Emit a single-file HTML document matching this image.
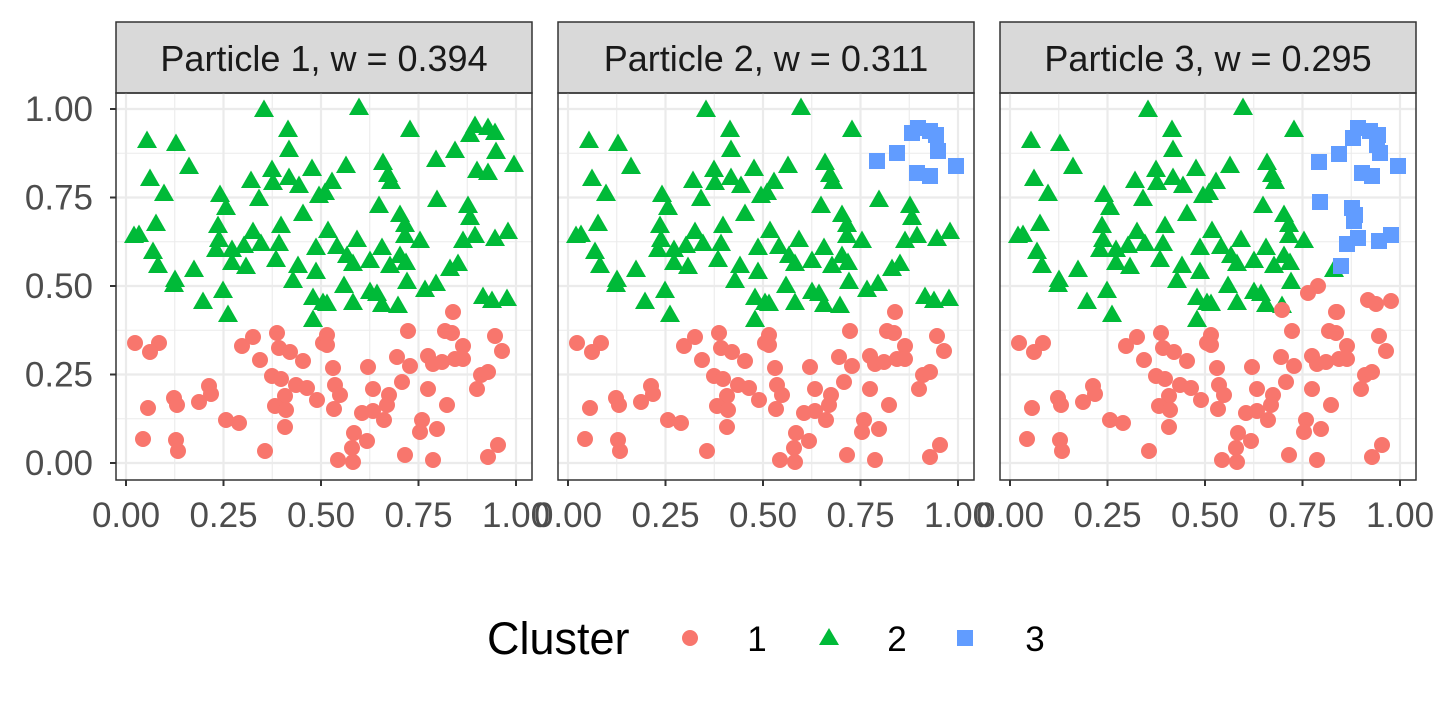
<!DOCTYPE html>
<html><head><meta charset="utf-8"><style>
body{margin:0;background:#fff;}
svg{display:block;font-family:"Liberation Sans",Arial,sans-serif;}
</style></head><body>
<svg id="s" width="1440" height="720" xmlns="http://www.w3.org/2000/svg"></svg>
<script>
const tri=[[264,110],[147,141],[176,144],[288,130],[289,150],[189,167],[150,179],[164,194],[251,181],[272,170],[273,183],[289,178],[299,186],[312,169],[259,199],[220,195],[226,208],[303,214],[319,196],[156,224],[134,236],[139,235],[218,226],[219,240],[216,250],[253,232],[261,244],[244,246],[232,250],[232,263],[246,267],[281,226],[279,244],[276,260],[298,266],[316,248],[316,272],[153,252],[158,266],[175,280],[174,285],[194,270],[223,291],[203,302],[228,315],[293,281],[313,298],[313,320],[323,303],
[359,108],[410,130],[475,126],[488,128],[495,133],[470,135],[496,152],[455,151],[436,160],[477,171],[488,173],[514,165],[346,166],[383,163],[388,175],[391,182],[332,182],[325,193],[437,200],[379,206],[400,215],[405,225],[468,206],[470,218],[328,231],[357,240],[382,248],[405,236],[420,241],[463,241],[475,236],[495,239],[508,232],[337,247],[347,256],[353,264],[370,261],[390,266],[400,256],[406,263],[450,269],[458,264],[407,282],[425,290],[436,284],[344,286],[353,303],[370,292],[377,294],[382,305],[398,306],[327,304],[483,297],[492,301],[507,299]];
const cir=[[135,343],[159,343],[150,352],[242,346],[253,337],[277,333],[279,348],[290,352],[260,360],[303,361],[272,376],[281,379],[296,385],[307,388],[317,400],[285,396],[275,406],[286,410],[285,427],[209,386],[211,394],[199,402],[174,398],[177,405],[148,408],[226,420],[239,423],[143,439],[176,440],[178,451],[265,451],[323,343],
[453,312],[408,331],[445,331],[452,333],[327,335],[327,345],[495,336],[502,351],[463,346],[397,357],[410,366],[428,356],[433,364],[442,362],[455,359],[463,359],[333,368],[368,367],[481,375],[488,372],[477,389],[335,385],[340,395],[334,409],[373,389],[402,382],[428,389],[389,395],[387,405],[362,413],[373,411],[384,420],[447,405],[422,420],[420,432],[437,429],[354,433],[367,441],[352,448],[338,460],[353,462],[405,455],[433,460],[488,457],[498,445]];
const blue2=[[877,161],[897,153],[912,133],[918,128],[930,131],[936,135],[938,151],[917,173],[930,176],[956,166]];
const blue3=[[1358,128],[1370,131],[1378,135],[1353,138],[1377,145],[1380,153],[1339,154],[1319,162],[1398,166],[1362,173],[1372,176],[1320,202],[1352,208],[1355,215],[1354,221],[1358,238],[1347,244],[1379,241],[1391,235],[1341,266]];
const red3=[[1318,286],[1308,293],[1282,310],[1336,312],[1368,300],[1376,304],[1391,301]];
const R='#F8766D',G='#00BA38',B='#619CFF';
let h='';
const T=(x,y)=>`<polygon points="${x},${y-10.5} ${x-10},${y+7} ${x+10},${y+7}" fill="${G}"/>`;
const C=(x,y)=>`<circle cx="${x}" cy="${y}" r="8" fill="${R}"/>`;
const S=(x,y)=>`<rect x="${x-8}" y="${y-8}" width="16" height="16" fill="${B}"/>`;
const labels=['Particle 1, w = 0.394','Particle 2, w = 0.311','Particle 3, w = 0.295'];
for(let p=0;p<3;p++){
  const o=p*442, L=116+o, Rr=532+o;
  h+=`<rect x="${L}" y="22" width="416" height="71" fill="#d9d9d9" stroke="#333" stroke-width="1.5"/>`;
  h+=`<text x="${L+208}" y="71" font-size="36" text-anchor="middle" fill="#1a1a1a">${labels[p]}</text>`;
  h+=`<clipPath id="c${p}"><rect x="${L}" y="93" width="416" height="387"/></clipPath><g clip-path="url(#c${p})">`;
  for(let i=0;i<5;i++){const y=463-88.5*i;h+=`<line x1="${L}" x2="${Rr}" y1="${y}" y2="${y}" stroke="#ebebeb" stroke-width="2.2"/>`;if(i<4)h+=`<line x1="${L}" x2="${Rr}" y1="${y-44.25}" y2="${y-44.25}" stroke="#ebebeb" stroke-width="1.1"/>`;}
  for(let i=0;i<5;i++){const x=126+o+97.5*i;h+=`<line y1="93" y2="480" x1="${x}" x2="${x}" stroke="#ebebeb" stroke-width="2.2"/>`;if(i<4)h+=`<line y1="93" y2="480" x1="${x+48.75}" x2="${x+48.75}" stroke="#ebebeb" stroke-width="1.1"/>`;}
  cir.forEach(([x,y])=>h+=C(x+o,y));
  tri.forEach(([x,y])=>{
    if(p==1&&x>=430&&y<180)return;
    if(p==2&&x>=424)return;
    h+=T(x+o,y);});
  if(p==2){h+=T(1334,270);red3.forEach(([x,y])=>h+=C(x,y));blue3.forEach(([x,y])=>h+=S(x,y));}
  if(p==1)blue2.forEach(([x,y])=>h+=S(x,y));
  h+=`</g><rect x="${L}" y="93" width="416" height="387" fill="none" stroke="#333" stroke-width="1.5"/>`;
  const xl=['0.00','0.25','0.50','0.75','1.00'];
  for(let i=0;i<5;i++){const x=126+o+97.5*i;h+=`<line x1="${x}" x2="${x}" y1="480" y2="486" stroke="#333" stroke-width="2"/><text x="${x}" y="527" font-size="35" text-anchor="middle" fill="#4d4d4d">${xl[i]}</text>`;}
  if(p==0){for(let i=0;i<5;i++){const y=463-88.5*i;h+=`<line x1="110" x2="116" y1="${y}" y2="${y}" stroke="#333" stroke-width="2"/><text x="93" y="${y+12}" font-size="35" text-anchor="end" fill="#4d4d4d">${xl[i]}</text>`;}}
}
h+=`<text x="487" y="654" font-size="45" fill="#000">Cluster</text>`;
h+=`<circle cx="690" cy="638" r="8" fill="${R}"/><text x="757" y="651" font-size="35" text-anchor="middle">1</text>`;
h+=`<polygon points="829,628 819,645 839,645" fill="${G}"/><text x="897" y="651" font-size="35" text-anchor="middle">2</text>`;
h+=`<rect x="957" y="630" width="16" height="16" fill="${B}"/><text x="1035" y="651" font-size="35" text-anchor="middle">3</text>`;
document.getElementById('s').innerHTML=h;
</script>
</body></html>
